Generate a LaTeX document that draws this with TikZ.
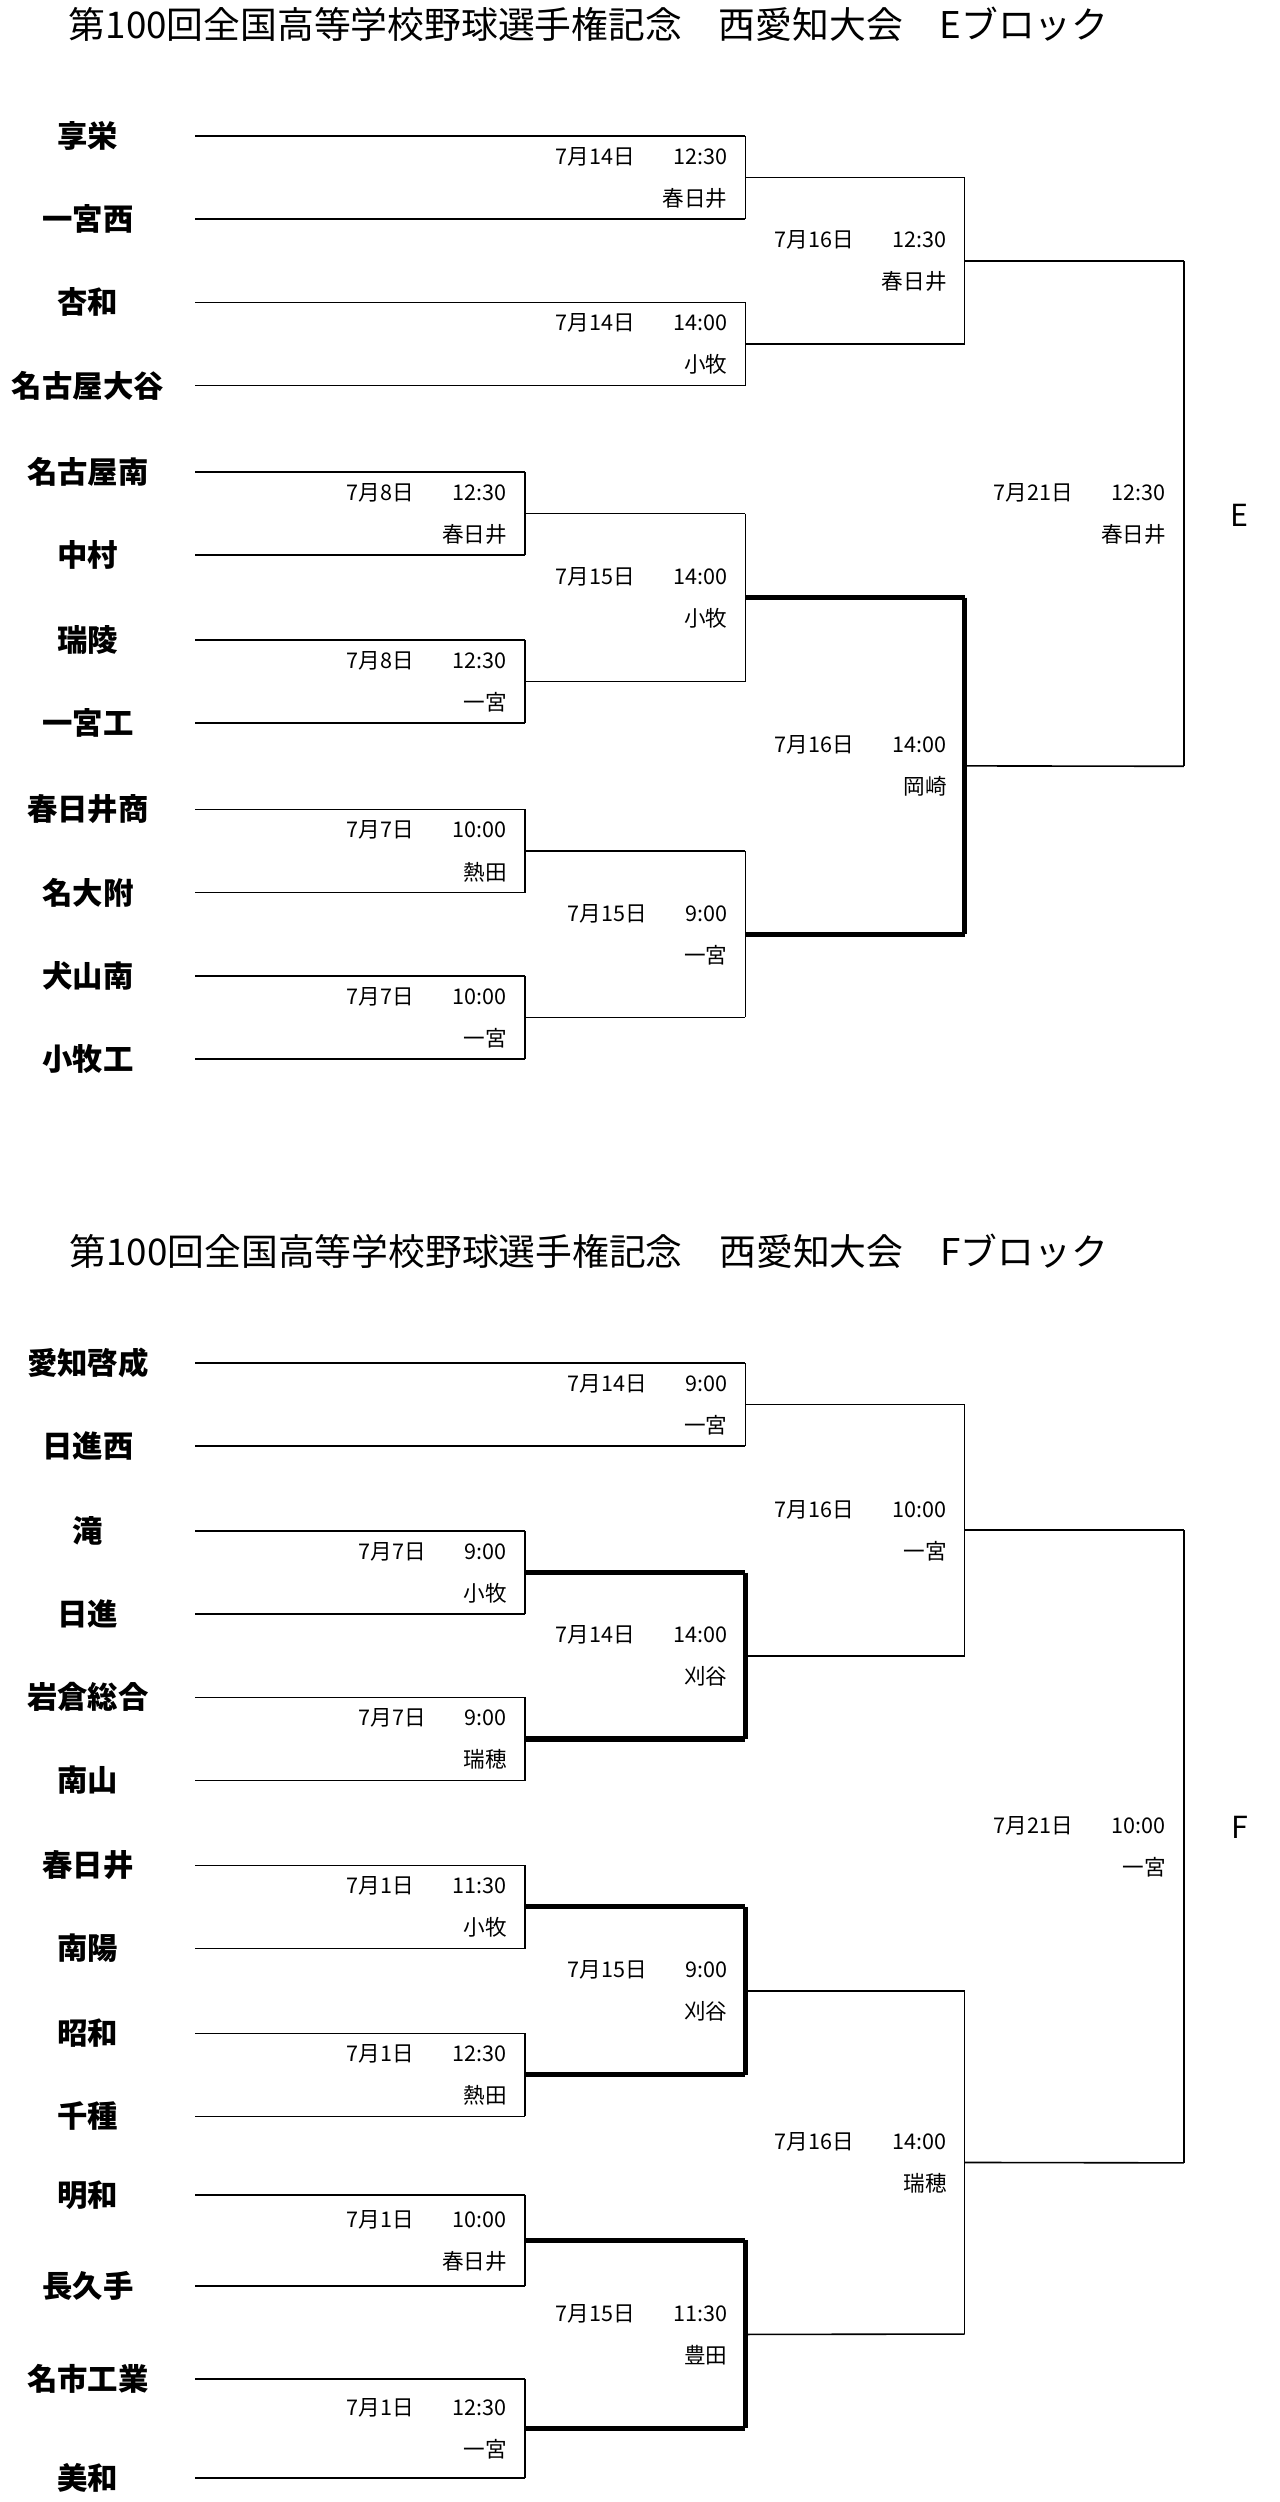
\documentclass[tikz,border=0pt]{standalone}
\usepackage{fontspec}
\setmainfont{Noto Sans CJK JP}
\tikzset{
  team/.style={font=\fontsize{19}{19}\selectfont\bfseries},
  info/.style={anchor=east, inner sep=0pt, font=\fontsize{13.5}{14}\selectfont},
  title/.style={font=\fontsize{23}{23}\selectfont},
  line/.style={line width=1pt},
  win/.style={line width=3.2pt}
}
% one game: name, x, upper y, lower y, date and time, venue, style of the vertical
\newcommand{\game}[7]{
  \coordinate (#1t) at (#2,#3);
  \coordinate (#1b) at (#2,#4);
  \coordinate (#1) at (#2,{(#3+#4)/2});
  \draw[#7] (#1t) -- (#1b);
  \node[info] (#1d) at ($(#1)+(-11,-13)$) {#5};
  \node[info] (#1v) at ($(#1)+(-11,13)$) {#6};
}
\newcommand{\dt}[2]{#1\hspace{1.8em}#2}
\usetikzlibrary{calc}
\begin{document}
\begin{tikzpicture}[x=1pt,y=-1pt]
    \useasboundingbox (0,0) rectangle (800,1564);

    % E block
    \node[title] (titleE) at (368,15) {第100回全国高等学校野球選手権記念\quad 西愛知大会\quad Eブロック};
    \foreach \y/\t/\x [count=\i] in {85/享栄/466, 137/一宮西/466, 189/杏和/466, 241/名古屋大谷/466,
        295/名古屋南/328, 347/中村/328, 400/瑞陵/328, 452/一宮工/328,
        506/春日井商/328, 558/名大附/328, 610/犬山南/328, 662/小牧工/328} {
      \node[team] (E\i) at (55,\y) {\t};
      \coordinate (E\i s) at (122,\y);
      \coordinate (E\i e) at (\x,\y);
      \draw[line] (E\i s) -- (E\i e);
    }
    \game{gE12}{466}{85}{137}{\dt{7月14日}{12:30}}{春日井}{line}
    \game{gE34}{466}{189}{241}{\dt{7月14日}{14:00}}{小牧}{line}
    \game{gE56}{328}{295}{347}{\dt{7月8日}{12:30}}{春日井}{line}
    \game{gE78}{328}{400}{452}{\dt{7月8日}{12:30}}{一宮}{line}
    \game{gE910}{328}{506}{558}{\dt{7月7日}{10:00}}{熱田}{line}
    \game{gE1112}{328}{610}{662}{\dt{7月7日}{10:00}}{一宮}{line}
    \game{gE58}{466}{321}{426}{\dt{7月15日}{14:00}}{小牧}{line}
    \game{gE912}{466}{532}{636}{\dt{7月15日}{9:00}}{一宮}{line}
    \game{gE14}{603}{111}{215}{\dt{7月16日}{12:30}}{春日井}{line}
    \game{gE512}{603}{373.5}{584}{\dt{7月16日}{14:00}}{岡崎}{win}
    \game{gEf}{740}{163}{479}{\dt{7月21日}{12:30}}{春日井}{line}
    \draw[line] (gE56) -- (gE58t);
    \draw[line] (gE78) -- (gE58b);
    \draw[line] (gE910) -- (gE912t);
    \draw[line] (gE1112) -- (gE912b);
    \draw[line] (gE12) -- (gE14t);
    \draw[line] (gE34) -- (gE14b);
    \draw[win] (gE58) -- (gE512t);
    \draw[win] (gE912) -- (gE512b);
    \draw[line] (gE14) -- (gEft);
    \draw[line] (gE512) -- (gEfb);
    \node[font=\fontsize{19}{19}\selectfont] (labelE) at (775,322) {E};

    % F block
    \node[title] (titleF) at (368,782) {第100回全国高等学校野球選手権記念\quad 西愛知大会\quad Fブロック};
    \foreach \y/\t/\x [count=\i] in {852/愛知啓成/466, 904/日進西/466, 957/滝/328, 1009/日進/328,
        1061/岩倉総合/328, 1113/南山/328, 1166/春日井/328, 1218/南陽/328,
        1271/昭和/328, 1323/千種/328, 1372/明和/328, 1429/長久手/328,
        1487/名市工業/328, 1549/美和/328} {
      \node[team] (F\i) at (55,\y) {\t};
      \coordinate (F\i s) at (122,\y);
      \coordinate (F\i e) at (\x,\y);
      \draw[line] (F\i s) -- (F\i e);
    }
    \game{gF12}{466}{852}{904}{\dt{7月14日}{9:00}}{一宮}{line}
    \game{gF34}{328}{957}{1009}{\dt{7月7日}{9:00}}{小牧}{line}
    \game{gF56}{328}{1061}{1113}{\dt{7月7日}{9:00}}{瑞穂}{line}
    \game{gF78}{328}{1166}{1218}{\dt{7月1日}{11:30}}{小牧}{line}
    \game{gF910}{328}{1271}{1323}{\dt{7月1日}{12:30}}{熱田}{line}
    \game{gF1112}{328}{1372}{1429}{\dt{7月1日}{10:00}}{春日井}{line}
    \game{gF1314}{328}{1487}{1549}{\dt{7月1日}{12:30}}{一宮}{line}
    \game{gF36}{466}{983}{1087}{\dt{7月14日}{14:00}}{刈谷}{win}
    \game{gF710}{466}{1192}{1297}{\dt{7月15日}{9:00}}{刈谷}{win}
    \game{gF1114}{466}{1400.5}{1518}{\dt{7月15日}{11:30}}{豊田}{win}
    \game{gF16}{603}{878}{1035}{\dt{7月16日}{10:00}}{一宮}{line}
    \game{gF714}{603}{1244.5}{1459}{\dt{7月16日}{14:00}}{瑞穂}{line}
    \game{gFf}{740}{956.5}{1352}{\dt{7月21日}{10:00}}{一宮}{line}
    \draw[win] (gF34) -- (gF36t);
    \draw[win] (gF56) -- (gF36b);
    \draw[win] (gF78) -- (gF710t);
    \draw[win] (gF910) -- (gF710b);
    \draw[win] (gF1112) -- (gF1114t);
    \draw[win] (gF1314) -- (gF1114b);
    \draw[line] (gF12) -- (gF16t);
    \draw[line] (gF36) -- (gF16b);
    \draw[line] (gF710) -- (gF714t);
    \draw[line] (gF1114) -- (gF714b);
    \draw[line] (gF16) -- (gFft);
    \draw[line] (gF714) -- (gFfb);
    \node[font=\fontsize{19}{19}\selectfont] (labelF) at (775,1142) {F};
\end{tikzpicture}
\end{document}
